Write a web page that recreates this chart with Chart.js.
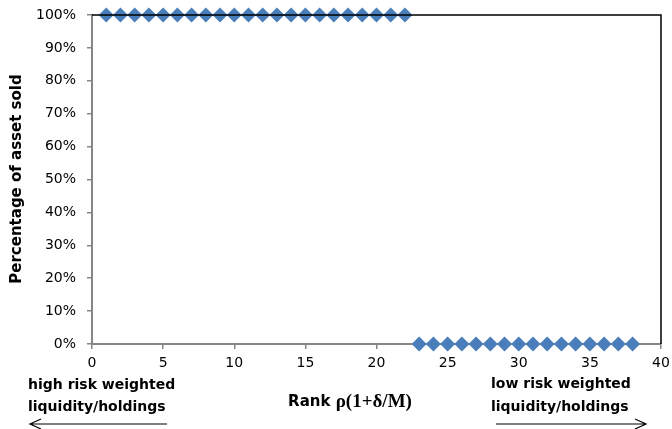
<!DOCTYPE html>
<html>
<head>
<meta charset="utf-8">
<script src="https://cdn.jsdelivr.net/npm/chart.js@4.4.0/dist/chart.umd.min.js"></script>
<style>
  html, body { margin: 0; padding: 0; background: #fff; }
  #wrap { width: 672px; height: 429px; }
</style>
</head>
<body>
<div id="wrap"><canvas id="myChart" width="672" height="429"></canvas></div>
<script>
// ranks of the assets and the share of each one that is sold
const ranks = [1, 2, 3, 4, 5, 6, 7, 8, 9, 10, 11, 12, 13, 14, 15, 16, 17, 18, 19, 20, 21, 22,
               23, 24, 25, 26, 27, 28, 29, 30, 31, 32, 33, 34, 35, 36, 37, 38];
const soldShare = [1, 1, 1, 1, 1, 1, 1, 1, 1, 1, 1, 1, 1, 1, 1, 1, 1, 1, 1, 1, 1, 1,
                   0, 0, 0, 0, 0, 0, 0, 0, 0, 0, 0, 0, 0, 0, 0, 0];
const yTitle = 'Percentage of asset sold';
const xTitleWord = 'Rank ';
const xTitleFormula = 'ρ(1+δ/M)';
const leftNote = ['high risk weighted', 'liquidity/holdings'];
const rightNote = ['low risk weighted', 'liquidity/holdings'];

const points = ranks.map((r, i) => ({ x: r, y: soldShare[i] }));

const sans = 'DejaVu Sans';
const axisGray = '#868686';

function arrow(ctx, x1, x2, y) {
    // line from x1 to x2, head at x2
    const dir = x2 > x1 ? 1 : -1;
    ctx.beginPath();
    ctx.moveTo(x1, y);
    ctx.lineTo(x2, y);
    ctx.moveTo(x2 - dir * 11, y - 5);
    ctx.lineTo(x2, y);
    ctx.lineTo(x2 - dir * 11, y + 5);
    ctx.stroke();
}

const extras = {
    id: 'extras',
    afterDraw(chart) {
        const ctx = chart.ctx;
        const a = chart.chartArea;
        ctx.save();

        // black frame on top and right
        ctx.strokeStyle = '#000';
        ctx.lineWidth = 1.5;
        ctx.beginPath();
        ctx.moveTo(a.left, a.top);
        ctx.lineTo(a.right, a.top);
        ctx.lineTo(a.right, a.bottom);
        ctx.stroke();

        ctx.fillStyle = '#000';

        // y title
        ctx.save();
        ctx.translate(17, 179);
        ctx.rotate(-Math.PI / 2);
        ctx.font = 'bold 15px "' + sans + '"';
        ctx.textAlign = 'center';
        ctx.textBaseline = 'middle';
        ctx.fillText(yTitle, 0, 0);
        ctx.restore();

        // x title, the formula part in a serif face
        ctx.textBaseline = 'middle';
        ctx.textAlign = 'left';
        const f1 = 'bold 15px "' + sans + '"';
        const f2 = 'bold 19px "Liberation Serif"';
        ctx.font = f1;
        const w1 = ctx.measureText(xTitleWord).width;
        ctx.font = f2;
        const w2 = ctx.measureText(xTitleFormula).width;
        const x0 = 350 - (w1 + w2) / 2;
        ctx.font = f1;
        ctx.fillText(xTitleWord, x0, 402);
        ctx.font = f2;
        ctx.fillText(xTitleFormula, x0 + w1, 402);

        // notes under the axis
        ctx.font = 'bold 14px "' + sans + '"';
        ctx.fillText(leftNote[0], 28, 385);
        ctx.fillText(leftNote[1], 28, 407);
        ctx.fillText(rightNote[0], 491, 384);
        ctx.fillText(rightNote[1], 491, 407);

        ctx.strokeStyle = '#000';
        ctx.lineWidth = 1.2;
        arrow(ctx, 167, 30, 424);
        arrow(ctx, 496, 646, 424);

        ctx.restore();
    }
};

new Chart(document.getElementById('myChart').getContext('2d'), {
    type: 'scatter',
    data: {
        datasets: [{
            data: points,
            showLine: false,
            pointStyle: 'rectRot',
            pointRadius: 7.5,
            pointHoverRadius: 7.5,
            backgroundColor: '#4A7EBB',
            borderColor: '#4A7EBB',
            borderWidth: 0,
            clip: false
        }]
    },
    options: {
        responsive: false,
        animation: false,
        events: [],
        layout: { padding: { top: 15, right: 11, bottom: 0, left: 0 } },
        plugins: {
            legend: { display: false },
            tooltip: { enabled: false }
        },
        scales: {
            x: {
                type: 'linear',
                min: 0,
                max: 40,
                ticks: { stepSize: 5, color: '#000', padding: 6, font: { family: sans, size: 14 } },
                grid: { drawOnChartArea: false, drawTicks: true, tickLength: 5, color: axisGray, lineWidth: 1.5 },
                border: { display: true, color: axisGray, width: 2 },
                afterFit(scale) {
                    scale.height = 85;
                    scale.paddingLeft = 0;
                    scale.paddingRight = 0;
                }
            },
            y: {
                min: 0,
                max: 1,
                ticks: {
                    stepSize: 0.1,
                    color: '#000',
                    padding: 11,
                    font: { family: sans, size: 14 },
                    callback: v => Math.round(v * 100) + '%'
                },
                grid: { drawOnChartArea: false, drawTicks: true, tickLength: 5, color: axisGray, lineWidth: 1.5 },
                border: { display: true, color: axisGray, width: 2 },
                afterFit(scale) {
                    scale.width = 92;
                    scale.paddingTop = 0;
                    scale.paddingBottom = 0;
                }
            }
        }
    },
    plugins: [extras]
});
</script>
</body>
</html>
